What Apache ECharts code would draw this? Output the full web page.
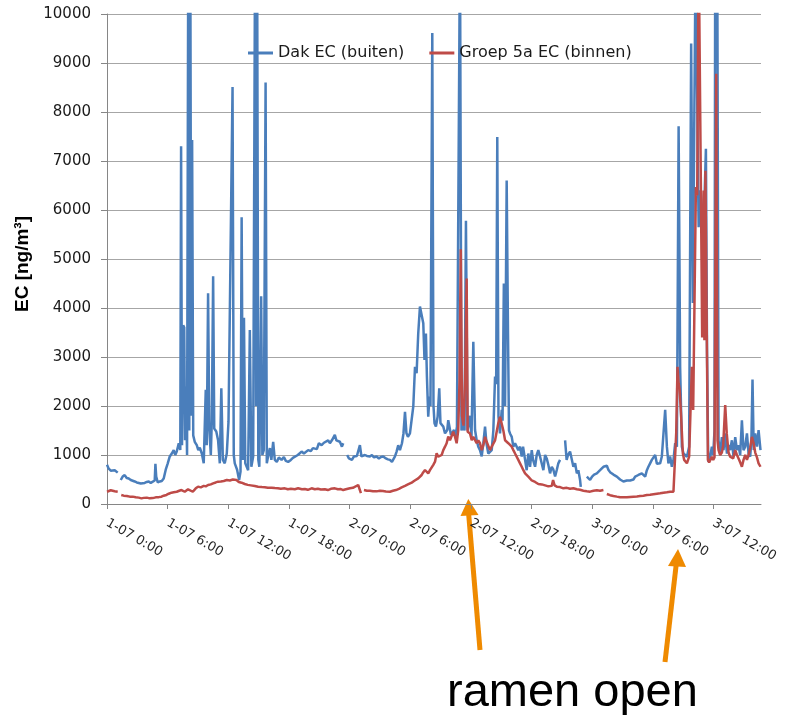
<!DOCTYPE html>
<html>
<head>
<meta charset="utf-8">
<script src="https://cdn.jsdelivr.net/npm/echarts@6/dist/echarts.min.js"></script>
<style>
  html, body { margin: 0; padding: 0; background: #fff; }
  #chart { width: 785px; height: 715px; }
</style>
</head>
<body>
<div id="chart"></div>
<script>
// hours since 1-07 0:00
var xTickLabels = ['1-07 0:00', '1-07 6:00', '1-07 12:00', '1-07 18:00', '2-07 0:00', '2-07 6:00',
    '2-07 12:00', '2-07 18:00', '3-07 0:00', '3-07 6:00', '3-07 12:00'];

var dakHours = [
    0.00, 0.17, 0.37, 0.56, 0.76, 1.06, 1.21, 1.36, 1.55, 1.75,
    1.95, 2.15, 2.35, 2.54, 2.74, 2.94, 3.14, 3.34, 3.53, 3.73,
    3.93, 4.13, 4.33, 4.52, 4.72, 4.79, 4.87, 5.02, 5.22, 5.42,
    5.61, 5.81, 6.01, 6.21, 6.41, 6.60, 6.75, 6.90, 7.10, 7.25,
    7.33, 7.42, 7.54, 7.64, 7.72, 7.81, 7.92, 8.04, 8.14, 8.24,
    8.34, 8.42, 8.53, 8.68, 8.88, 9.03, 9.18, 9.38, 9.57, 9.77,
    9.87, 10.00, 10.12, 10.27, 10.37, 10.50, 10.61, 10.81, 10.99, 11.16,
    11.31, 11.46, 11.65, 11.85, 12.02, 12.20, 12.42, 12.54, 12.64, 12.87,
    13.07, 13.21, 13.32, 13.44, 13.55, 13.68, 13.78, 13.96, 14.13, 14.28,
    14.46, 14.65, 14.75, 14.85, 14.97, 15.07, 15.25, 15.37, 15.51, 15.69,
    15.81, 15.96, 16.11, 16.26, 16.44, 16.60, 16.80, 17.00, 17.27, 17.50,
    17.69, 17.92, 18.19, 18.39, 18.58, 18.88, 19.25, 19.48, 19.67, 19.90,
    20.17, 20.37, 20.56, 20.76, 20.96, 21.23, 21.46, 21.65, 21.88, 22.05,
    22.25, 22.38, 22.54, 22.69, 22.84, 23.04, 23.24, 23.37, 23.55, 23.76,
    23.93, 24.03, 24.23, 24.43, 24.52, 24.72, 24.87, 25.02, 25.17, 25.35,
    25.51, 25.71, 26.01, 26.21, 26.41, 26.67, 26.90, 27.10, 27.33, 27.59,
    27.79, 27.99, 28.19, 28.49, 28.65, 28.81, 28.98, 29.18, 29.33, 29.48,
    29.62, 29.77, 29.97, 30.14, 30.30, 30.47, 30.63, 30.79, 30.96, 31.13,
    31.29, 31.41, 31.55, 31.65, 31.78, 31.90, 32.00, 32.18, 32.30, 32.40,
    32.54, 32.71, 32.87, 32.99, 33.27, 33.44, 33.66, 33.76, 33.86, 34.03,
    34.13, 34.33, 34.48, 34.62, 34.75, 34.92, 35.07, 35.22, 35.37, 35.51,
    35.66, 35.74, 35.91, 36.06, 36.24, 36.41, 36.57, 36.73, 36.90, 37.07,
    37.23, 37.40, 37.54, 37.72, 37.89, 38.06, 38.22, 38.39, 38.50, 38.61,
    38.73, 38.88, 39.05, 39.13, 39.26, 39.38, 39.54, 39.67, 39.77, 39.87,
    40.04, 40.20, 40.37, 40.53, 40.69, 40.86, 41.03, 41.16, 41.36, 41.52,
    41.68, 41.85, 42.02, 42.15, 42.35, 42.51, 42.67, 42.84, 43.01, 43.17,
    43.34, 43.50, 43.66, 43.83, 44.00, 44.16, 44.33, 44.50, 44.65, 44.82,
    45.05, 45.32, 45.47, 45.61, 45.81, 45.98, 46.14, 46.31, 46.48, 46.63,
    46.80, 46.87, 47.15, 47.47, 47.59, 47.79, 47.99, 48.19, 48.46, 48.58,
    48.78, 48.95, 49.11, 49.28, 49.45, 49.60, 49.77, 49.94, 50.10, 50.27,
    50.44, 50.59, 50.76, 50.93, 51.09, 51.26, 51.43, 51.58, 51.75, 51.92,
    52.08, 52.25, 52.42, 52.57, 52.74, 52.91, 53.07, 53.24, 53.41, 53.56,
    53.73, 53.90, 54.06, 54.23, 54.40, 54.55, 54.72, 54.89, 55.05, 55.22,
    55.39, 55.54, 55.71, 55.88, 56.04, 56.21, 56.38, 56.55, 56.70, 56.87,
    57.03, 57.20, 57.37, 57.59, 57.79, 57.96, 58.24, 58.37, 58.44, 58.53,
    58.73, 58.93, 59.08, 59.25, 59.36, 59.48, 59.67, 59.84, 59.97, 60.10,
    60.17, 60.37, 60.50, 60.66, 60.83, 60.99, 61.16, 61.33, 61.49, 61.65,
    61.82, 61.98, 62.15, 62.32, 62.48, 62.64, 62.81, 62.97, 63.14, 63.31,
    63.47, 63.63, 63.75, 63.86, 63.98, 64.13, 64.30, 64.46, 64.65
];
var dakEC = [
    800, 720, 680, 660, 690, 640, null, 490, 560, 590,
    530, 520, 490, 500, 460, 440, 430, 420, 440, 430,
    450, 460, 430, 450, 480, 820, 560, 440, 460, 470,
    520, 700, 830, 970, 1030, 1100, 1000, 1070, 1240, 1100,
    7300, 1200, 3650, 3600, 1300, 2400, 1000, 11500, 1500, 11500,
    1800, 7430, 1400, 1270, 1200, 1100, 1150, 1030, 830, 2330,
    1200, 4300, 1540, 1000, 1710, 4650, 1540, 1480, 1300, 830,
    2360, 900, 830, 1030, 1680, 1700, 8510, 1000, 830, 700,
    490, 660, 5850, 900, 3800, 830, 830, 690, 3550, 760,
    970, 11500, 2000, 11500, 900, 760, 4240, 1000, 1100, 8600,
    830, 1000, 1140, 900, 1270, 900, 860, 950, 900, 960,
    880, 860, 900, 940, 970, 1000, 1070, 1030, 1060, 1100,
    1080, 1140, 1170, 1120, 1240, 1200, 1250, 1270, 1300, 1240,
    1300, 1310, 1410, 1300, 1340, 1270, 1170, 1240, null, 1000,
    930, 970, 900, 970, 930, 980, 970, 1200, 970, 930,
    1000, 980, 970, 1000, 950, 970, 930, 960, 970, 930,
    910, 900, 860, 970, 1070, 1200, 1100, 1240, 1440, 1880,
    1450, 1370, 1440, 1480, 1990, 2800, 2670, 3480, 4030, 4000,
    3690, 2940, 3480, 2600, 1780, 2190, 2000, 9610, 2000, 1650,
    1580, 1780, 2360, 1650, 1580, 1440, 1510, 1710, 1680, 1410,
    1370, 1510, 1370, 1580, 1600, 11500, 1500, 1600, 1500, 5780,
    1500, 1580, 1800, 1370, 3310, 1510, 1300, 1170, 1100, 970,
    1240, 1580, 1240, 1030, 1030, 1100, 1500, 2600, 2450, 7490,
    1780, 1440, 1920, 1700, 4500, 2000, 6600, 3500, 1500, 1440,
    1370, 1170, 1240, 1270, 1100, 1170, 970, 1170, 900, 690,
    1030, 760, 1100, 900, 760, 1000, 1100, 970, 1000, 690,
    1000, 930, 800, 625, 760, 700, 560, 700, 830, 900,
    null, 1300, 900, 1000, 1070, 1040, 760, 830, 625, 690,
    490, 350, null, 560, 520, 490, 560, 600, 625, 600,
    690, 720, 760, 800, 780, 700, 650, 625, 600, 625,
    560, 520, 500, 490, 460, 435, 480, 456, 480, 456,
    500, 558, 540, 592, 600, 625, 600, 560, 690, 760,
    830, 900, 860, 1000, 820, 780, 830, 970, 1000, 1920,
    1170, 830, 970, 760, 900, 1240, 1170, 7710, 2800, 1170,
    1030, 1000, 965, 1170, 9400, 4100, 11500, 11500, 7200, 5650,
    6400, 5700, 6000, 7250, 3140, 860, 965, 1170, 1000, 1500,
    11500, 11500, 1300, 1030, 1365, 1100, 1440, 1030, 1200, 1100,
    1300, 965, 1365, 1100, 1200, 1000, 1710, 1100, 1170, 1440,
    1030, 965, 1300, 2540, 1100, 1440, 1170, 1510, 1100
];

var groepHours = [
    0.00, 0.17, 0.37, 0.56, 0.76, 1.06, 1.21, 1.41, 1.65, 1.95,
    2.25, 2.54, 2.84, 3.14, 3.41, 3.63, 3.93, 4.23, 4.52, 4.82,
    5.12, 5.39, 5.61, 5.88, 6.11, 6.38, 6.60, 6.90, 7.15, 7.37,
    7.52, 7.69, 8.02, 8.19, 8.49, 8.78, 9.01, 9.28, 9.57, 9.77,
    10.00, 10.27, 10.50, 10.76, 10.99, 11.26, 11.55, 11.85, 12.15, 12.45,
    12.81, 13.04, 13.31, 13.63, 13.93, 14.23, 14.62, 14.95, 15.32, 15.61,
    15.91, 16.28, 16.60, 16.90, 17.20, 17.59, 17.89, 18.19, 18.58, 18.91,
    19.28, 19.57, 19.87, 20.24, 20.56, 20.86, 21.16, 21.55, 21.85, 22.15,
    22.54, 22.84, 23.14, 23.37, 23.63, 24.03, 24.33, 24.52, 24.85, 25.02,
    25.12, 25.27, 25.42, 25.71, 26.01, 26.31, 26.67, 27.00, 27.30, 27.59,
    27.99, 28.29, 28.58, 28.88, 29.15, 29.48, 29.77, 30.14, 30.37, 30.56,
    30.79, 30.96, 31.13, 31.26, 31.46, 31.65, 31.78, 31.95, 32.12, 32.28,
    32.45, 32.61, 32.77, 32.94, 33.11, 33.27, 33.44, 33.60, 33.76, 33.93,
    34.10, 34.26, 34.43, 34.59, 34.75, 34.87, 35.00, 35.12, 35.27, 35.42,
    35.58, 35.68, 35.91, 36.08, 36.24, 36.41, 36.57, 36.73, 36.90, 37.07,
    37.23, 37.40, 37.56, 37.72, 37.89, 38.06, 38.22, 38.39, 38.55, 38.71,
    38.88, 39.05, 39.21, 39.38, 39.54, 39.70, 39.87, 40.04, 40.20, 40.37,
    40.53, 40.69, 40.86, 41.03, 41.19, 41.36, 41.52, 41.68, 41.85, 42.02,
    42.18, 42.35, 42.51, 42.67, 42.84, 43.01, 43.17, 43.34, 43.50, 43.66,
    43.83, 44.00, 44.13, 44.28, 44.50, 44.82, 45.15, 45.49, 45.81, 46.14,
    46.48, 46.80, 47.13, 47.47, 47.79, 48.12, 48.46, 48.78, 49.11, 49.28,
    49.45, 49.77, 50.10, 50.44, 50.76, 51.09, 51.43, 51.75, 52.08, 52.42,
    52.74, 53.07, 53.41, 53.73, 54.06, 54.40, 54.72, 55.05, 55.39, 55.71,
    56.04, 56.21, 56.31, 56.44, 56.55, 56.65, 56.80, 56.97, 57.10, 57.37,
    57.59, 57.74, 57.86, 57.99, 58.16, 58.26, 58.39, 58.53, 58.68, 58.75,
    58.88, 59.03, 59.10, 59.20, 59.35, 59.45, 59.57, 59.84, 59.97, 60.10,
    60.27, 60.40, 60.50, 60.66, 60.83, 60.96, 61.16, 61.31, 61.49, 61.65,
    61.82, 61.95, 62.15, 62.32, 62.48, 62.64, 62.81, 62.97, 63.14, 63.31,
    63.47, 63.63, 63.80, 63.96, 64.13, 64.30, 64.46, 64.65
];
var groepEC = [
    250, 285, 280, 270, 260, 250, null, 185, 170, 165,
    150, 150, 136, 130, 115, 125, 130, 115, 120, 136,
    140, 150, 170, 185, 210, 231, 240, 250, 270, 285,
    320, 250, 300, 280, 250, 320, 354, 340, 370, 360,
    388, 400, 422, 440, 456, 460, 470, 490, 480, 500,
    490, 450, 435, 408, 390, 380, 367, 354, 345, 340,
    330, 333, 325, 320, 310, 320, 300, 310, 300, 320,
    300, 305, 290, 320, 300, 310, 295, 300, 285, 310,
    320, 300, 305, 285, 300, 320, 330, 354, 388, 422,
    220, null, 285, 270, 272, 260, 258, 270, 265, 255,
    250, 270, 285, 310, 340, 370, 400, 435, 470, 490,
    524, 540, 592, 640, 694, 660, 625, 690, 730, 800,
    864, 1034, 966, 980, 1000, 1100, 1170, 1240, 1375, 1300,
    1300, 1476, 1370, 1240, 1510, 2500, 5200, 1800, 1600, 2530,
    4600, 1476, 1440, 1300, 1370, 1370, 1240, 1300, 1240, 1100,
    1200, 1370, 1270, 1240, 1100, 1170, 1170, 1300, 1300, 1650,
    1780, 1780, 1500, 1300, 1270, 1240, 1240, 1170, 1100, 1030,
    1000, 900, 830, 760, 690, 625, 590, 560, 524, 480,
    456, 450, 422, 408, 400, 400, 388, 380, 367, 360,
    354, 370, 490, 380, 354, 345, 320, 330, 310, 320,
    300, 290, 272, 260, 252, 270, 280, 270, 285, null,
    204, 180, 165, 150, 136, 140, 136, 145, 150, 155,
    163, 170, 184, 190, 200, 210, 218, 230, 240, 250,
    252, 285, 1440, 2800, 2460, 2340, 1780, 1030, 900, 830,
    965, 2000, 2800, 1920, 1900, 6470, 6300, 11500, 11500, 6540,
    3400, 6400, 3340, 6800, 3140, 900, 850, 965, 900, 950,
    8780, 1300, 1100, 1000, 1050, 1200, 2020, 1440, 1050, 965,
    1000, 930, 1100, 1000, 930, 850, 760, 900, 1000, 900,
    1000, 1150, 1370, 1250, 1050, 950, 830, 760
];

function pairs(hours, values) {
    return hours.map(function (h, i) {
        return [h, values[i] === null ? '-' : values[i]];
    });
}

var myChart = echarts.init(document.getElementById('chart'));
var orange = '#ef8a00';

var option = {
    backgroundColor: '#fff',
    animation: false,
    color: ['#4a7ebb', '#be4b48'],
    grid: { left: 107, right: 24, top: 14, bottom: 211 },
    legend: {
        left: 248,
        top: 45,
        padding: 0,
        icon: 'rect',
        itemWidth: 25,
        itemHeight: 3,
        itemGap: 25,
        textStyle: { color: '#1a1a1a', fontSize: 16, fontFamily: 'DejaVu Sans' },
        data: ['Dak EC (buiten)', 'Groep 5a EC (binnen)']
    },
    xAxis: {
        type: 'value',
        min: 0,
        max: 64.7,
        interval: 6,
        splitLine: { show: false },
        axisLine: { lineStyle: { color: '#868686', width: 1 } },
        axisTick: { length: 5, lineStyle: { color: '#868686' } },
        axisLabel: {
            rotate: -30,
            margin: 18,
            color: '#262626',
            fontSize: 13,
            fontFamily: 'DejaVu Sans',
            showMaxLabel: false,
            formatter: function (v) {
                var i = Math.round(v / 6);
                return Math.abs(v - i * 6) < 1e-6 ? (xTickLabels[i] || '') : '';
            }
        }
    },
    yAxis: {
        type: 'value',
        min: 0,
        max: 10000,
        interval: 1000,
        name: 'EC [ng/m³]',
        nameLocation: 'middle',
        nameGap: 69,
        nameRotate: 90,
        nameTextStyle: {
            color: '#000', fontSize: 19, fontWeight: 'bold', fontFamily: 'Liberation Sans',
            padding: [0, 10, 0, 0]
        },
        axisLine: { show: true, lineStyle: { color: '#868686', width: 1 } },
        axisTick: { show: true, length: 6, lineStyle: { color: '#868686' } },
        axisLabel: {
            margin: 16, color: '#1a1a1a', fontSize: 15, fontFamily: 'DejaVu Sans',
            formatter: function (v) { return String(v); }
        },
        splitLine: { lineStyle: { color: '#a6a6a6', width: 1 } }
    },
    series: [
        {
            name: 'Dak EC (buiten)',
            type: 'line',
            showSymbol: false,
            clip: true,
            connectNulls: false,
            lineStyle: { width: 2.5 },
            data: pairs(dakHours, dakEC)
        },
        {
            name: 'Groep 5a EC (binnen)',
            type: 'line',
            showSymbol: false,
            clip: true,
            connectNulls: false,
            lineStyle: { width: 2.5 },
            data: pairs(groepHours, groepEC)
        }
    ],
    graphic: [
        { type: 'line', shape: { x1: 480, y1: 650, x2: 468.5, y2: 512 }, style: { stroke: orange, lineWidth: 5 } },
        { type: 'polygon', shape: { points: [[468.3, 499], [460.5, 516], [478.5, 515]] }, style: { fill: orange } },
        { type: 'line', shape: { x1: 665, y1: 662, x2: 676.5, y2: 562 }, style: { stroke: orange, lineWidth: 5 } },
        { type: 'polygon', shape: { points: [[678, 549], [668, 566], [686, 567]] }, style: { fill: orange } },
        {
            type: 'text', x: 447, y: 693,
            style: { text: 'ramen open', fill: '#000', font: '47px "Liberation Sans"', verticalAlign: 'middle' }
        }
    ]
};
myChart.setOption(option);
</script>
</body>
</html>
